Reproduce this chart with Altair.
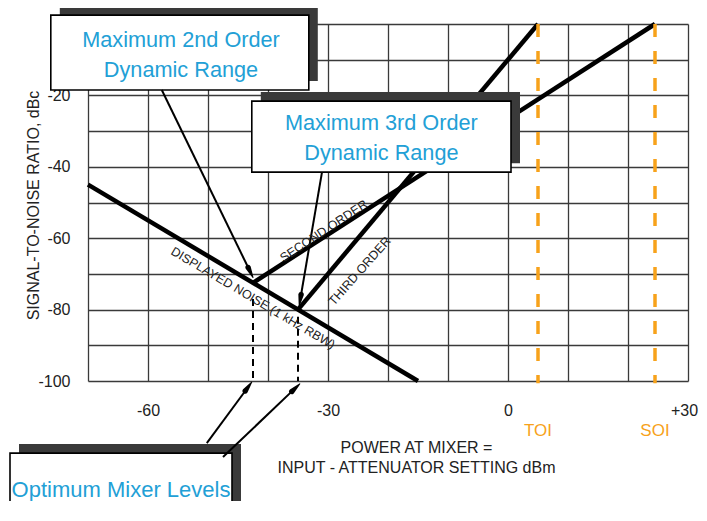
import math
import altair as alt
import pandas as pd

# ---------------- data ----------------
x_grid = [-70, -60, -50, -40, -30, -20, -10, 0, 10, 20, 30]
y_grid = [-100, -90, -80, -70, -60, -50, -40, -30, -20, -10, 0]
x_label_vals = [-60, -30, 0, 30]
x_label_text = ["-60", "-30", "0", "+30"]
y_label_vals = [-100, -80, -60, -40, -20]
y_label_text = ["-100", "-80", "-60", "-40", "-20"]

noise_x = [-70, -15]
noise_y = [-45, -100]
second_x = [-42.5, 24.5]
second_y = [-72.5, 0]
third_x = [-35, 5]
third_y = [-80, 0]

toi_x = 5
soi_x = 24.5
opt_x = [-42.5, -35]
opt_top = [-77, -82]

# ---------------- layout ----------------
W, H = 600, 357
SX, SY = W / 100.0, H / 100.0
FONT = "Liberation Sans"
BLUE = "#22a0d6"
ORANGE = "#f7a21b"

xs = alt.Scale(domain=[-70, 30], nice=False, zero=False)
ys = alt.Scale(domain=[-100, 0], nice=False, zero=False)


def lab_expr(vals, texts):
    e = "''"
    for v, t in reversed(list(zip(vals, texts))):
        e = f"datum.value == {v} ? '{t}' : ({e})"
    return e


xaxis = alt.Axis(values=x_grid, labelExpr=lab_expr(x_label_vals, x_label_text),
                 grid=True, gridColor="#3a3a3a", gridWidth=1.3, domain=False, ticks=False,
                 labelPadding=21, labelFont=FONT, labelFontSize=16, labelColor="#222",
                 labelFlush=False, labelOverlap=False,
                 labelOffset={"condition": {"test": f"datum.value == {x_label_vals[-1]}", "value": -4},
                              "value": 0},
                 title=["POWER AT MIXER =", "INPUT - ATTENUATOR SETTING dBm"],
                 titleFont=FONT, titleFontSize=16, titleFontWeight="normal", titleColor="#222",
                 titleX=328, titleY=58, titleBaseline="top", titleLineHeight=20)
yaxis = alt.Axis(values=y_grid, labelExpr=lab_expr(y_label_vals, y_label_text),
                 grid=True, gridColor="#3a3a3a", gridWidth=1.3, domain=False, ticks=False,
                 labelPadding=18, labelFont=FONT, labelFontSize=16, labelColor="#222",
                 labelFlush=False, labelOverlap=False,
                 title="SIGNAL-TO-NOISE RATIO, dBc",
                 titleFont=FONT, titleFontSize=16, titleFontWeight="normal", titleColor="#222",
                 titleX=-55, titleY=181, titleBaseline="middle", titleAngle=-90)

X = alt.X("x:Q", scale=xs, axis=xaxis)
Y = alt.Y("y:Q", scale=ys, axis=yaxis)

# main curves
rows = []
for name, xx, yy in [("noise", noise_x, noise_y), ("second", second_x, second_y),
                     ("third", third_x, third_y)]:
    for a, b in zip(xx, yy):
        rows.append({"series": name, "x": a, "y": b})
curves = alt.Chart(pd.DataFrame(rows)).mark_line(color="black", strokeWidth=4.5, clip=False).encode(
    x=X, y=Y, detail="series:N")

# orange TOI / SOI lines
orange_df = pd.DataFrame({"x": [toi_x, soi_x], "y": [0, 0], "y2": [-100.6, -100.6]})
orange = alt.Chart(orange_df).mark_rule(color=ORANGE, strokeWidth=3.5, strokeDash=[13, 14],
                                        clip=False).encode(x=X, y=Y, y2="y2:Q")

# black dashed verticals
opt_df = pd.DataFrame({"x": opt_x, "y": opt_top, "y2": [-100, -100]})
optlines = alt.Chart(opt_df).mark_rule(color="black", strokeWidth=2, strokeDash=[7, 5],
                                       clip=False).encode(x=X, y=Y, y2="y2:Q")

# annotation boxes: (x0, x1, y0, y1)
boxes = [(-76.2, -33.2, 2.5, -18.5), (-42.7, 0.5, -21.6, -41.5), (-83.0, -46.0, -120.2, -150.0)]
shadow_dx, shadow_dy = 9 / SX, 9 / SY
shadow_df = pd.DataFrame([{"x": a + shadow_dx, "x2": b + shadow_dx, "y": c + shadow_dy,
                           "y2": d + shadow_dy} for a, b, c, d in boxes])
box_df = pd.DataFrame([{"x": a, "x2": b, "y": c, "y2": d} for a, b, c, d in boxes])
shadows = alt.Chart(shadow_df).mark_rect(color="#3a3a3a", clip=False).encode(
    x=X, x2="x2:Q", y=Y, y2="y2:Q")
boxr = alt.Chart(box_df).mark_rect(fill="white", stroke="black", strokeWidth=1.6, clip=False).encode(
    x=X, x2="x2:Q", y=Y, y2="y2:Q")

# arrows (start, tip)
arrows = [((-57.7, -18.5), (-42.5, -71.0)), ((-31.0, -41.5), (-34.8, -78.9)),
          ((-50.2, -117.4), (-42.7, -100.3)), ((-47.5, -121.3), (-34.7, -100.8))]
HEAD_L, HEAD_W = 11.0, 5.5
arow, heads = [], []
for i, ((x0, y0), (x1, y1)) in enumerate(arrows):
    dxp, dyp = (x1 - x0) * SX, (y1 - y0) * SY
    n = math.hypot(dxp, dyp)
    bx, by = x1 - dxp / n * HEAD_L / SX, y1 - dyp / n * HEAD_L / SY
    mx, my = x1 - dxp / n * (HEAD_L * 0.5) / SX, y1 - dyp / n * (HEAD_L * 0.5) / SY
    arow.append({"a": i, "x": x0, "y": y0})
    arow.append({"a": i, "x": mx, "y": my})
    heads.append({"a": i, "x": bx, "y": by, "w": HEAD_W})
    heads.append({"a": i, "x": x1, "y": y1, "w": 0.0})
arrow_lines = alt.Chart(pd.DataFrame(arow)).mark_line(color="black", strokeWidth=2, clip=False).encode(
    x=X, y=Y, detail="a:N")
arrow_heads = alt.Chart(pd.DataFrame(heads)).mark_trail(color="black", clip=False).encode(
    x=X, y=Y, detail="a:N", size=alt.Size("w:Q", scale=None, legend=None))

# box texts
box_text_df = pd.DataFrame([
    {"x": -54.5, "y": -4.5, "t": "Maximum 2nd Order"},
    {"x": -54.5, "y": -12.9, "t": "Dynamic Range"},
    {"x": -21.1, "y": -27.7, "t": "Maximum 3rd Order"},
    {"x": -21.1, "y": -36.1, "t": "Dynamic Range"},
])
box_texts = alt.Chart(box_text_df).mark_text(font=FONT, fontSize=21.7, color=BLUE, align="center",
                                             baseline="middle", clip=False).encode(x=X, y=Y, text="t:N")
opt_text = alt.Chart(pd.DataFrame({"x": [-64.5], "y": [-130.5], "t": ["Optimum Mixer Levels"]})).mark_text(
    font=FONT, fontSize=22, color=BLUE, align="center", baseline="middle", clip=False).encode(
    x=X, y=Y, text="t:N")

# curve labels
curve_labels = []
for xx, yy, t, ang in [(-30.7, -58.0, "SECOND ORDER", 326.5), (-24.7, -69.2, "THIRD ORDER", 311.5),
                       (-42.5, -76.8, "DISPLAYED NOISE (1 kHz RBW)", 30.6)]:
    curve_labels.append(alt.Chart(pd.DataFrame({"x": [xx], "y": [yy], "t": [t]})).mark_text(
        font=FONT, fontSize=12.5, color="#222", angle=ang, align="center", baseline="middle",
        clip=False).encode(x=X, y=Y, text="t:N"))

# TOI / SOI labels
toi_df = pd.DataFrame({"x": [toi_x, soi_x], "y": [-114.0, -114.0], "t": ["TOI", "SOI"]})
toi_text = alt.Chart(toi_df).mark_text(font=FONT, fontSize=17, color=ORANGE, align="center",
                                       baseline="middle", clip=False).encode(x=X, y=Y, text="t:N")

chart = alt.layer(curves, orange, optlines, shadows, boxr, arrow_lines, arrow_heads,
                  box_texts, opt_text, *curve_labels, toi_text).properties(
    width=W, height=H, autosize=alt.AutoSizeParams(type="none"),
    padding={"left": 80, "top": 16, "right": 11, "bottom": 120},
    background="white").configure_view(strokeWidth=0)

chart.save("out.html", embed_options={"renderer": "svg", "actions": False})
